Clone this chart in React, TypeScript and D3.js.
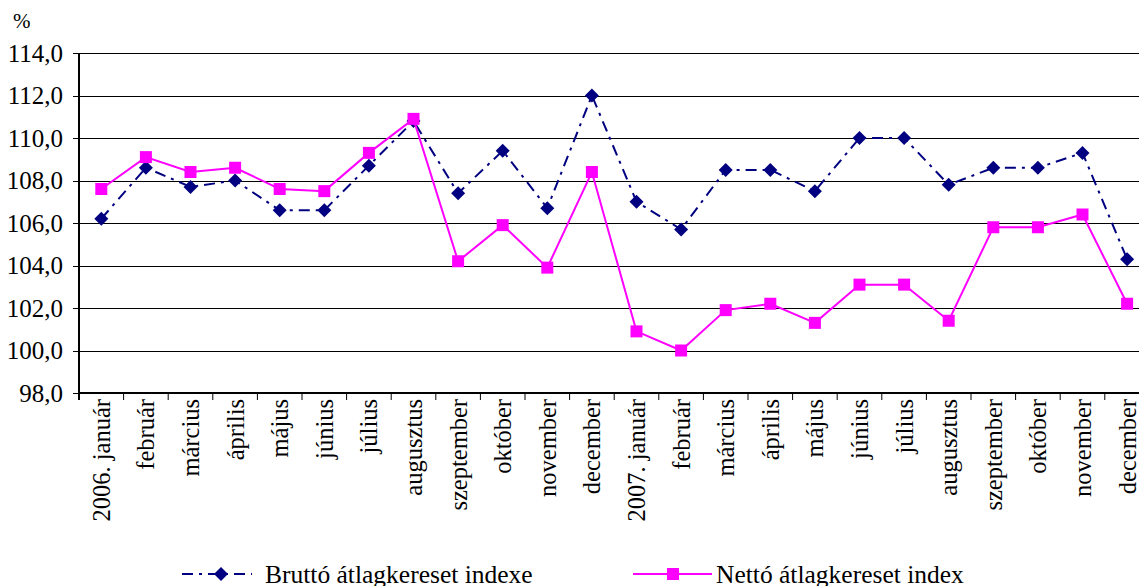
import { useEffect, useRef } from "react";
import * as d3 from "d3";

const months = [
    "2006. január", "február", "március", "április", "május", "június",
    "július", "augusztus", "szeptember", "október", "november", "december",
    "2007. január", "február", "március", "április", "május", "június",
    "július", "augusztus", "szeptember", "október", "november", "december",
];

const brutto = [
    106.2, 108.6, 107.7, 108.0, 106.6, 106.6, 108.7, 110.8, 107.4, 109.4, 106.7, 112.0,
    107.0, 105.7, 108.5, 108.5, 107.5, 110.0, 110.0, 107.8, 108.6, 108.6, 109.3, 104.3,
];

const netto = [
    107.6, 109.1, 108.4, 108.6, 107.6, 107.5, 109.3, 110.9, 104.2, 105.9, 103.9, 108.4,
    100.9, 100.0, 101.9, 102.2, 101.3, 103.1, 103.1, 101.4, 105.8, 105.8, 106.4, 102.2,
];

const yTicks = [98, 100, 102, 104, 106, 108, 110, 112, 114];

const seriesNames = ["Bruttó átlagkereset indexe", "Nettó átlagkereset index"];

const W = 1139;
const H = 586;
const FONT = "'Liberation Serif', 'Times New Roman', serif";
const NAVY = "#000080";
const PINK = "#FF00FF";

export default function App() {
    const svgRef = useRef<SVGSVGElement | null>(null);

    useEffect(() => {
        const svg = d3.select(svgRef.current!);
        svg.selectAll("*").remove();

        const left = 79;
        const top = 53;
        const bottom = 393;
        const band = 44.6;

        const x = d3.scaleBand<string>()
            .domain(months.map((_, i) => String(i)))
            .range([left, left + band * months.length]);
        const y = d3.scaleLinear().domain([98, 114]).range([bottom, top]);
        const cx = (i: number) => x(String(i))! + x.bandwidth() / 2;

        // gridlines
        svg.append("g")
            .selectAll("line")
            .data(yTicks)
            .join("line")
            .attr("x1", left - 6)
            .attr("x2", W)
            .attr("y1", (d) => Math.round(y(d)) + 0.5)
            .attr("y2", (d) => Math.round(y(d)) + 0.5)
            .attr("stroke", "#000")
            .attr("stroke-width", 1);

        // y labels
        svg.append("g")
            .selectAll("text")
            .data(yTicks)
            .join("text")
            .attr("x", 63)
            .attr("y", (d) => y(d))
            .attr("dy", "0.35em")
            .attr("text-anchor", "end")
            .attr("font-family", FONT)
            .attr("font-size", 25)
            .text((d) => d.toFixed(1).replace(".", ","));

        svg.append("text")
            .attr("x", 13)
            .attr("y", 28)
            .attr("font-family", FONT)
            .attr("font-size", 21)
            .text("%");

        // axes
        svg.append("line")
            .attr("x1", left).attr("x2", left)
            .attr("y1", top).attr("y2", bottom + 7)
            .attr("stroke", "#000").attr("stroke-width", 2);
        svg.append("line")
            .attr("x1", left).attr("x2", W)
            .attr("y1", bottom).attr("y2", bottom)
            .attr("stroke", "#000").attr("stroke-width", 2);

        // x ticks
        svg.append("g")
            .selectAll("line")
            .data(d3.range(months.length + 1))
            .join("line")
            .attr("x1", (i) => left + i * x.step())
            .attr("x2", (i) => left + i * x.step())
            .attr("y1", bottom)
            .attr("y2", bottom + 7)
            .attr("stroke", "#000")
            .attr("stroke-width", 1);

        // x labels
        svg.append("g")
            .selectAll("text")
            .data(months)
            .join("text")
            .attr("transform", (_, i) => `translate(${cx(i)},${bottom + 6}) rotate(-90)`)
            .attr("dy", "0.35em")
            .attr("text-anchor", "end")
            .attr("font-family", FONT)
            .attr("font-size", 24.5)
            .text((d) => d);

        const line = d3.line<number>()
            .x((_, i) => cx(i))
            .y((d) => y(d));

        // brutto series
        svg.append("path")
            .attr("d", line(brutto)!)
            .attr("fill", "none")
            .attr("stroke", NAVY)
            .attr("stroke-width", 2)
            .attr("stroke-dasharray", "11,6,3,6");

        const diamond = (s: number) => `M0,${-s}L${s},0L0,${s}L${-s},0Z`;
        svg.append("g")
            .selectAll("path")
            .data(brutto)
            .join("path")
            .attr("transform", (d, i) => `translate(${cx(i)},${y(d)})`)
            .attr("d", diamond(7))
            .attr("fill", NAVY);

        // netto series
        svg.append("path")
            .attr("d", line(netto)!)
            .attr("fill", "none")
            .attr("stroke", PINK)
            .attr("stroke-width", 2);

        svg.append("g")
            .selectAll("rect")
            .data(netto)
            .join("rect")
            .attr("x", (_, i) => cx(i) - 6)
            .attr("y", (d) => y(d) - 6)
            .attr("width", 12)
            .attr("height", 12)
            .attr("fill", PINK);

        // legend
        const ly = 574;
        const lg = svg.append("g");
        lg.append("line")
            .attr("x1", 182).attr("x2", 252)
            .attr("y1", ly).attr("y2", ly)
            .attr("stroke", NAVY).attr("stroke-width", 2)
            .attr("stroke-dasharray", "11,6,3,6");
        lg.append("path")
            .attr("transform", `translate(221,${ly})`)
            .attr("d", diamond(7))
            .attr("fill", NAVY);
        lg.append("text")
            .attr("x", 265).attr("y", ly)
            .attr("dy", "0.35em")
            .attr("font-family", FONT)
            .attr("font-size", 25.5)
            .text(seriesNames[0]);

        lg.append("line")
            .attr("x1", 633).attr("x2", 712)
            .attr("y1", ly).attr("y2", ly)
            .attr("stroke", PINK).attr("stroke-width", 2);
        lg.append("rect")
            .attr("x", 667).attr("y", ly - 6)
            .attr("width", 12).attr("height", 12)
            .attr("fill", PINK);
        lg.append("text")
            .attr("x", 716).attr("y", ly)
            .attr("dy", "0.35em")
            .attr("font-family", FONT)
            .attr("font-size", 25.5)
            .text(seriesNames[1]);
    }, []);

    return (
        <div style={{ position: "absolute", left: 0, top: 0, width: W, height: H, background: "#fff" }}>
            <svg ref={svgRef} width={W} height={H} style={{ display: "block" }} />
        </div>
    );
}
